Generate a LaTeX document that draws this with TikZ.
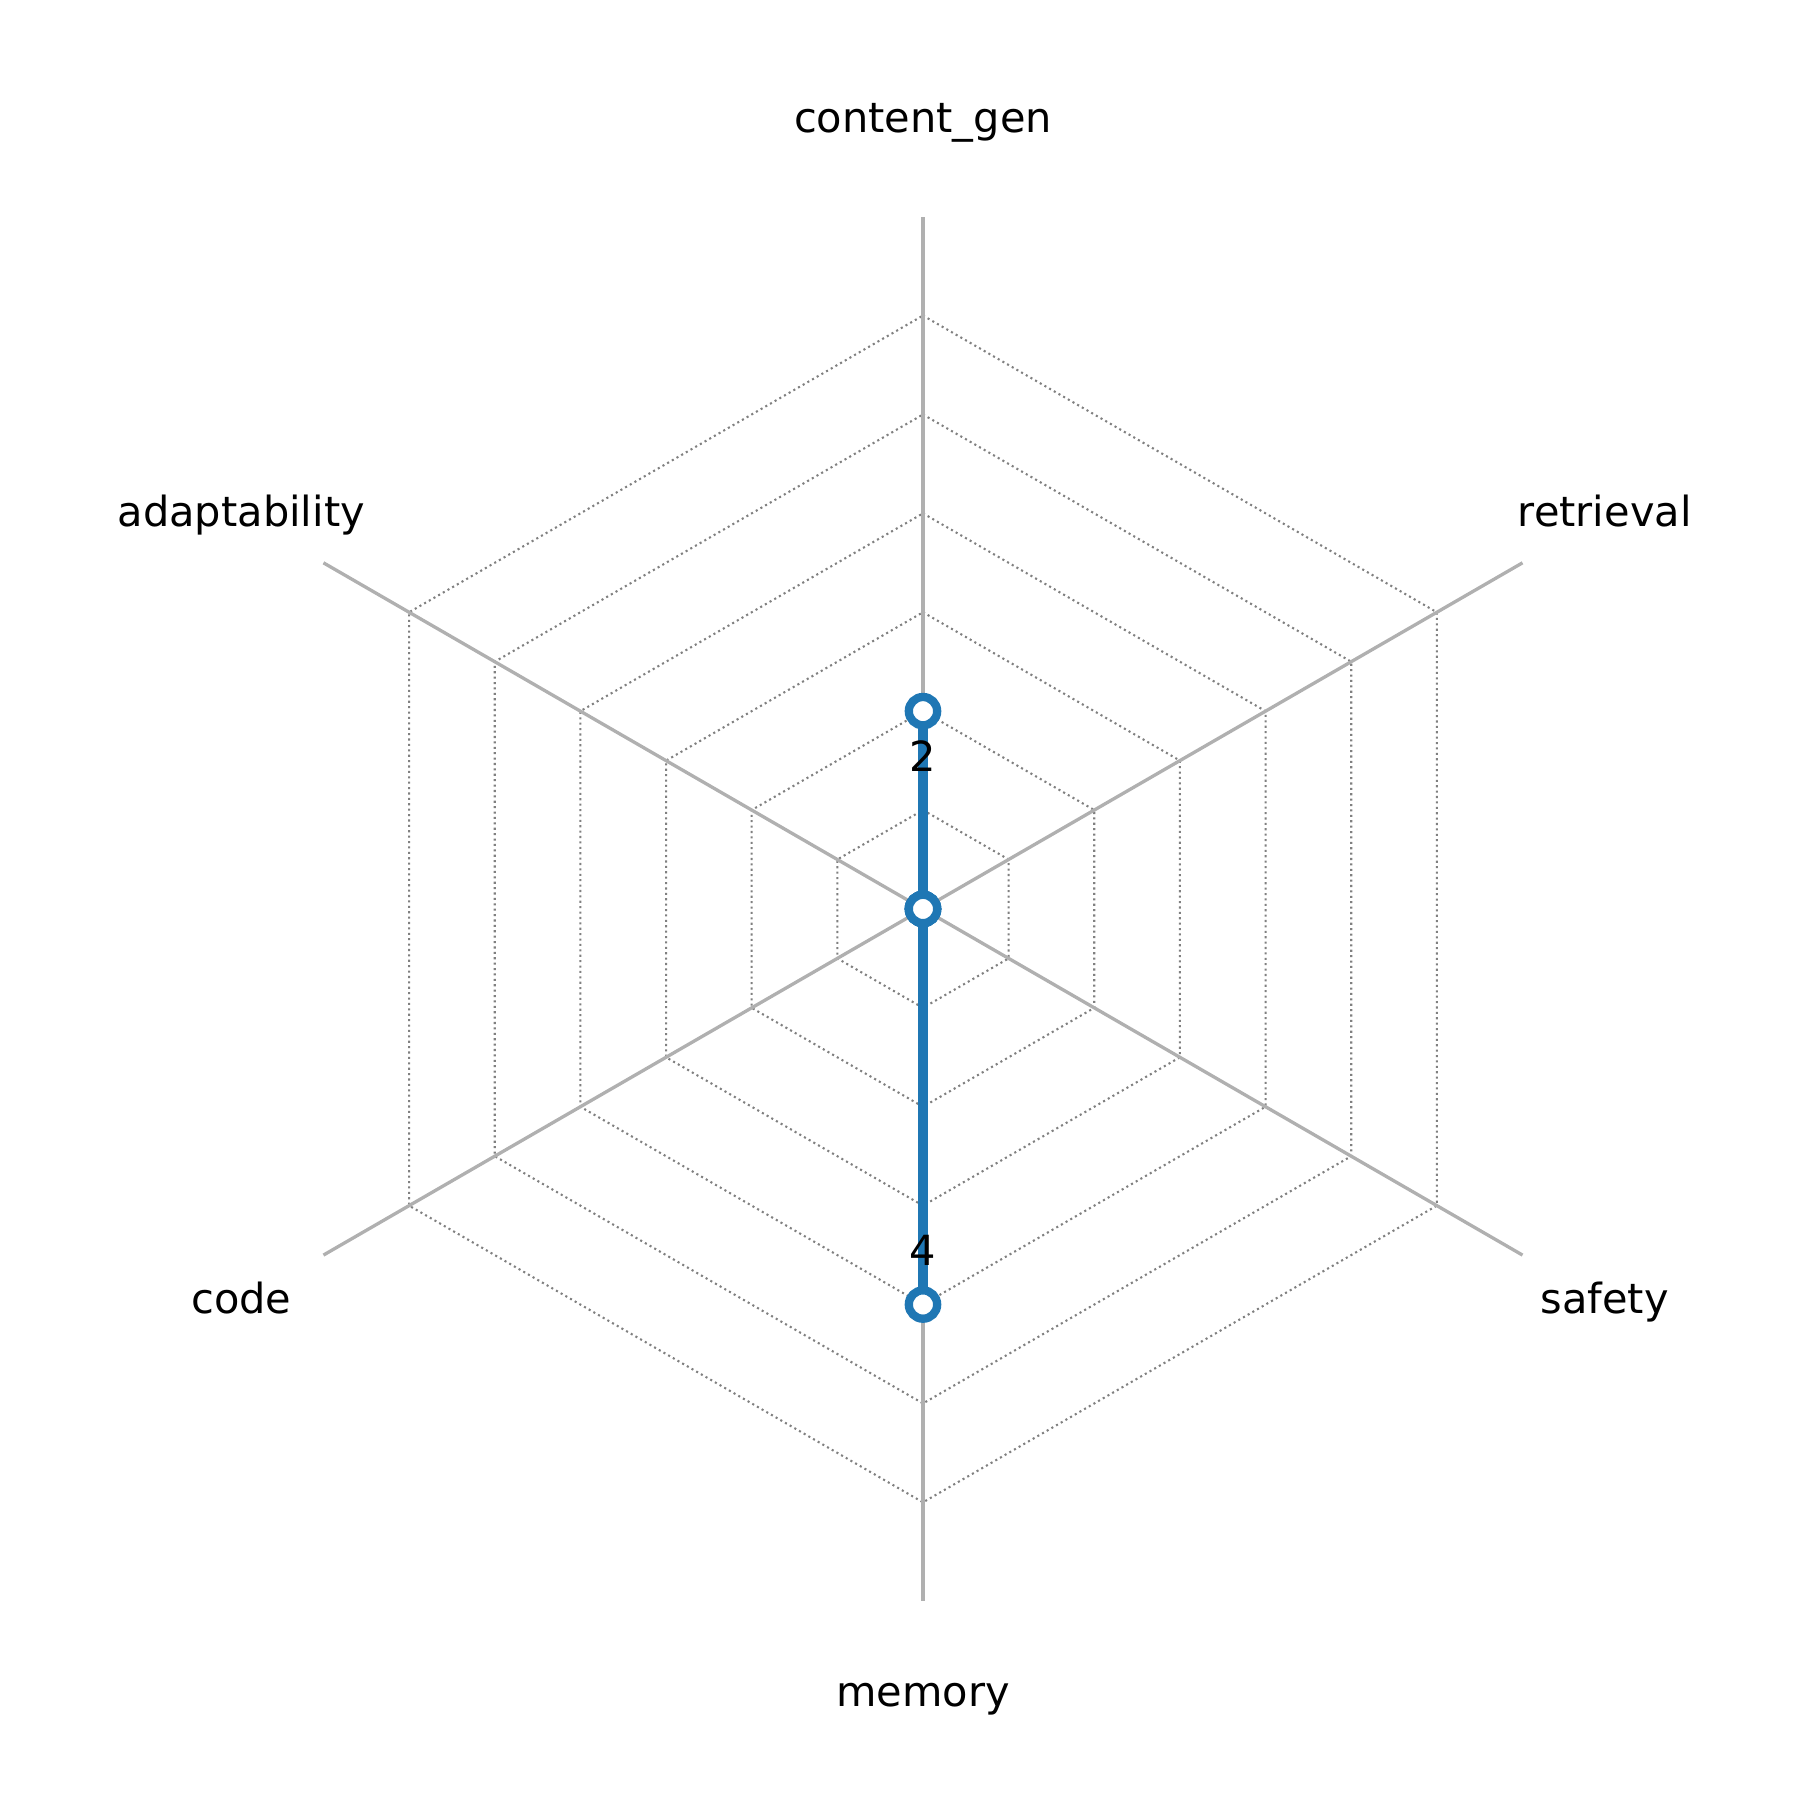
\documentclass[tikz,border=0pt]{standalone}
\usepackage{fontspec}
\setmainfont{DejaVu Sans}
\usepackage{tikz}
\definecolor{ejegris}{HTML}{B0B0B0}
\definecolor{anillogris}{HTML}{808080}
\definecolor{serieazul}{HTML}{1F77B4}
\tikzstyle{eje} = [draw=ejegris, line width=0.8pt]
\tikzstyle{anillo} = [draw=anillogris, line width=0.5pt, dash pattern=on 0.5pt off 0.8pt]
\tikzstyle{serie} = [draw=serieazul, line width=2.4pt, line join=round]
\tikzstyle{marca} = [circle, draw=serieazul, fill=white, line width=2pt, inner sep=0pt, minimum size=0.24cm]
\tikzstyle{etiqueta} = [font=\fontsize{10}{12}\selectfont, inner sep=0pt, text height=0.76em, text depth=0.24em]

\begin{document}
\begin{tikzpicture}[x=0.8373cm, y=0.8373cm]
	\useasboundingbox (-9.333,-9.010) rectangle (8.868,9.191);
	\foreach \r in {1,...,6}
		\draw[anillo] (90:\r) -- (30:\r) -- (-30:\r) -- (-90:\r) -- (-150:\r) -- (150:\r) -- cycle;
	\coordinate (o) at (0,0);
	\foreach \a/\n/\t in {90/1/content\_gen, 30/2/retrieval, -30/3/safety, -90/4/memory, -150/5/code, 150/6/adaptability}{
		\coordinate (e\n) at (\a:7);
		\draw[eje] (o) -- (e\n);
		\node[etiqueta] (l\n) at (\a:7.96) {\t};
	}
	\coordinate (p1) at (90:2);
	\coordinate (p2) at (o);
	\coordinate (p3) at (o);
	\coordinate (p4) at (-90:4);
	\coordinate (p5) at (o);
	\coordinate (p6) at (o);
	\draw[serie] (p1) -- (p2) -- (p3) -- (p4) -- (p5) -- (p6) -- cycle;
	\foreach \n in {1,...,6}
		\node[marca] (m\n) at (p\n) {};
	\node[etiqueta] (v1) at (90:1.5) {2};
	\node[etiqueta] (v4) at (-90:3.5) {4};
\end{tikzpicture}
\end{document}
